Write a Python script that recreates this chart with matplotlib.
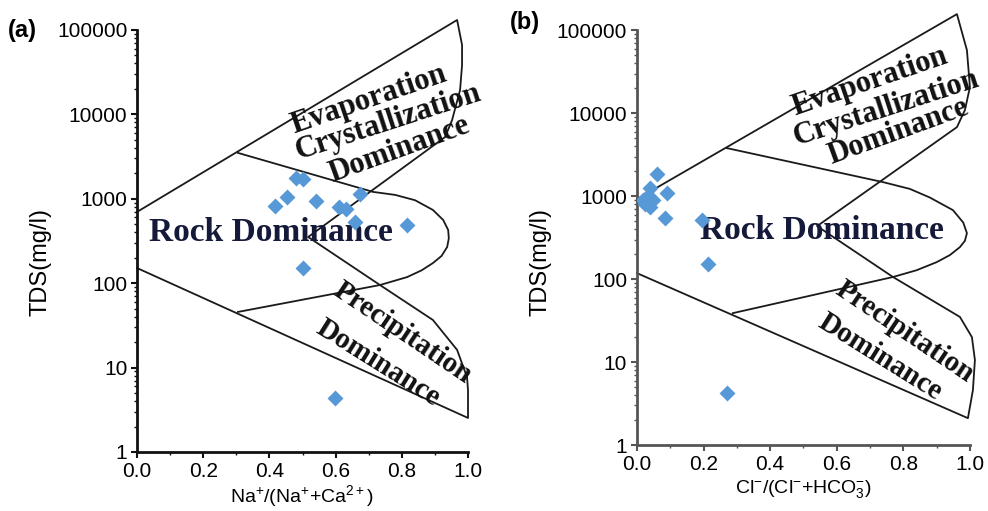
import matplotlib
matplotlib.use("Agg")
import matplotlib.pyplot as plt
from matplotlib.ticker import LogLocator, NullFormatter, FixedLocator, MultipleLocator
import numpy as np

plt.rcParams['font.family'] = ['Liberation Sans', 'DejaVu Sans']
plt.rcParams['mathtext.default'] = 'regular'

# --- sample points ---
na_ratio = [0.48, 0.50, 0.453, 0.417, 0.541, 0.61, 0.63, 0.674, 0.659, 0.816, 0.502, 0.598]
na_tds = [1750, 1720, 1050, 822, 942, 790, 760, 1140, 531, 490, 151, 4.36]

cl_ratio = [0.060, 0.039, 0.030, 0.018, 0.048, 0.039, 0.025, 0.090, 0.084, 0.195, 0.213, 0.270]
cl_tds = [1850, 1250, 972, 895, 895, 737, 800, 1090, 543, 514, 152, 4.24]

# --- Gibbs boundary outlines (x ratio, TDS) for each panel ---
a_outer_x = [0.0, 0.967, 0.982, 0.982, 0.976, 0.952, 0.931, 0.517, 0.734, 0.894, 0.967, 0.997, 1.0, 1.0, 0.0]
a_outer_y = [698, 131000, 66400, 38400, 19400, 8590, 5390, 352, 95, 36.6, 16.2, 7.7, 5.4, 2.53, 151]
a_rock_x = [0.305, 0.713, 0.780, 0.840, 0.894, 0.925, 0.940, 0.942, 0.937, 0.920, 0.894, 0.860, 0.816, 0.734, 0.305]
a_rock_y = [3490, 1205, 1110, 960, 736, 560, 427, 340, 268, 210, 173, 142, 118, 95, 45.6]

b_outer_x = [0.0, 0.961, 0.991, 1.0, 0.985, 0.961, 0.541, 0.769, 0.970, 1.006, 1.015, 1.009, 0.994, 0.0]
b_outer_y = [920, 156000, 57400, 20600, 10900, 6780, 435, 106, 35, 20, 10.6, 4.6, 2.11, 118]
b_rock_x = [0.270, 0.739, 0.820, 0.880, 0.949, 0.980, 0.991, 0.985, 0.970, 0.940, 0.900, 0.840, 0.769, 0.288]
b_rock_y = [3790, 1475, 1220, 960, 678, 480, 358, 290, 243, 195, 160, 128, 106, 38.9]

y_ticks = [1, 10, 100, 1000, 10000, 100000]
y_ticklabels = ['1', '10', '100', '1000', '10000', '100000']
x_ticks = [0.0, 0.2, 0.4, 0.6, 0.8, 1.0]

fig = plt.figure(figsize=(9.88, 5.11), dpi=100)
ax_a = fig.add_axes([0.1387, 0.1155, 0.335, 0.826])
ax_b = fig.add_axes([0.6447, 0.129, 0.337, 0.812])

serif = 'Liberation Serif'
line_c = '#1a1a1a'
pt_c = '#5799d6'


def setup(ax, spine_c):
    ax.set_yscale('log')
    ax.set_xlim(0, 1)
    ax.set_ylim(1, 100000)
    for s in ['top', 'right']:
        ax.spines[s].set_visible(False)
    for s in ['left', 'bottom']:
        ax.spines[s].set_linewidth(2)
        ax.spines[s].set_color(spine_c)
    ax.yaxis.set_major_locator(FixedLocator(y_ticks))
    ax.set_yticklabels(y_ticklabels)
    ax.yaxis.set_minor_locator(LogLocator(base=10, subs=np.arange(2, 10)))
    ax.yaxis.set_minor_formatter(NullFormatter())
    ax.xaxis.set_major_locator(FixedLocator(x_ticks))
    ax.xaxis.set_minor_locator(MultipleLocator(0.1))
    ax.set_xticklabels(['%.1f' % v for v in x_ticks])
    ax.tick_params(which='major', direction='out', length=4, width=1.5,
                   labelsize=15, color=spine_c, pad=3)
    ax.tick_params(which='minor', direction='out', length=2.5, width=1, color=spine_c)
    ax.patch.set_alpha(0)


def region_labels(ax, evap, rock, prec):
    kw = dict(family=serif, fontweight='bold', ha='center', va='center', clip_on=False)
    for txt, (x, y, r) in zip(['Evaporation', 'Crystallization', 'Dominance'], evap):
        ax.text(x, y, txt, rotation=r, fontsize=22, color='#111111', **kw)
    ax.text(rock[0], rock[1], 'Rock Dominance', fontsize=24, color='#15193a', **kw)
    for txt, (x, y, r) in zip(['Precipitation', 'Dominance'], prec):
        ax.text(x, y, txt, rotation=r, fontsize=21, color='#111111', **kw)


# panel (a)
setup(ax_a, '#111111')
ax_a.plot(a_outer_x, a_outer_y, color=line_c, lw=1.3, clip_on=False)
ax_a.plot(a_rock_x, a_rock_y, color=line_c, lw=1.3, clip_on=False)
ax_a.plot(na_ratio, na_tds, 'D', color=pt_c, ms=8, mec='none', zorder=5)
region_labels(ax_a,
              [(0.70, 14800, 19), (0.758, 8130, 18), (0.792, 3790, 20)],
              (0.405, 394),
              [(0.804, 25.7, -34), (0.728, 11.4, -32)])
ax_a.set_xlabel(r'Na$^{+}$/(Na$^{+}$+Ca$^{2+}$)', fontsize=14, labelpad=2)

# panel (b)
setup(ax_b, '#555555')
ax_b.plot(b_outer_x, b_outer_y, color=line_c, lw=1.3, clip_on=False)
ax_b.plot(b_rock_x, b_rock_y, color=line_c, lw=1.3, clip_on=False)
ax_b.plot(cl_ratio, cl_tds, 'D', color=pt_c, ms=8, mec='none', zorder=5)
region_labels(ax_b,
              [(0.70, 23600, 19), (0.748, 11500, 18), (0.784, 5900, 20)],
              (0.556, 390),
              [(0.805, 23, -34), (0.73, 11.5, -32)])
ax_b.set_xlabel(r'Cl$^{-}$/(Cl$^{-}$+HCO$_3^{-}$)', fontsize=14, labelpad=3)

fig.text(40 / 988, 1 - 262 / 511, 'TDS(mg/l)', rotation=90, fontsize=17,
         ha='center', va='center')
fig.text(540 / 988, 1 - 262 / 511, 'TDS(mg/l)', rotation=90, fontsize=17,
         ha='center', va='center')
fig.text(8 / 988, 1 - 30 / 511, '(a)', fontsize=17, fontweight='bold', va='center')
fig.text(510 / 988, 1 - 22 / 511, '(b)', fontsize=17, fontweight='bold', va='center')

plt.savefig('out.png', dpi=100)
